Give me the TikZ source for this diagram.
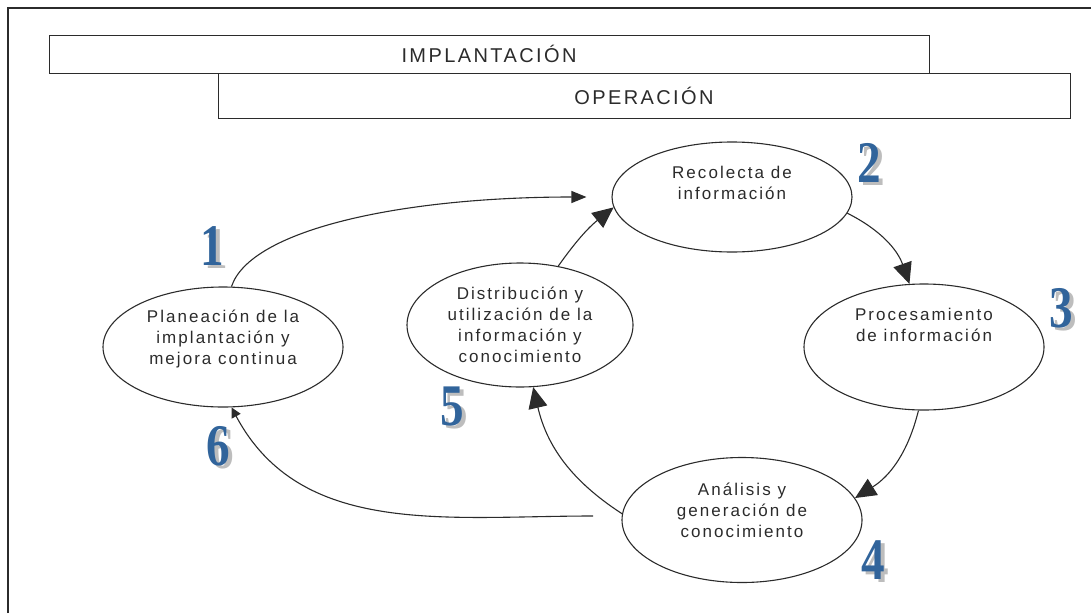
\documentclass[tikz,border=0pt]{standalone}
\usepackage{fontspec}
\setmainfont{Liberation Sans}
\newfontfamily\ellfont{Liberation Sans}[LetterSpace=12]
\newfontfamily\barfont{Liberation Sans}[LetterSpace=12]
\newfontfamily\numfont{Liberation Serif}
\usetikzlibrary{shapes.geometric,arrows.meta}
\definecolor{numblue}{HTML}{31649B}
\definecolor{numshade}{HTML}{BDBDBD}
\definecolor{inkgray}{HTML}{2B2B2B}
\begin{document}
\begin{tikzpicture}[
                            x=1pt, y=-1pt,
                            bar/.style={rectangle, draw=inkgray, line width=1pt, text=inkgray, font=\barfont\fontsize{20}{22}\selectfont},
                            blob/.style={ellipse, draw=inkgray, line width=1.1pt},
                            blobtext/.style={align=center, text=inkgray, font=\ellfont\fontsize{17}{21}\selectfont},
                            flow/.style={-{Triangle[length=21pt,width=19pt]}, draw=inkgray, line width=1.1pt},
                            num/.style={inner sep=0pt, text=numblue, font=\numfont\bfseries\fontsize{59}{59}\selectfont}
                        ]
                        \useasboundingbox (0,0) rectangle (1091,613);
                        \draw [line width=2pt, draw=inkgray] (8,613) -- (8,8) -- (1091,8);

                        % Phases
                        \node [bar, minimum width=880pt, minimum height=38pt] (impl) at (489,54) {IMPLANTACIÓN};
                        \node [bar, minimum width=852pt, minimum height=45pt] (oper) at (644,95.5) {OPERACIÓN};

                        % Blocks
                        \node [blob, minimum width=240pt, minimum height=120pt, label={[blobtext, yshift=8pt]center:{Planeación de la\\implantación y\\mejora continua}}] (pla) at (223,347) {};
                        \node [blob, minimum width=240pt, minimum height=110pt, label={[blobtext, yshift=14pt]center:{Recolecta de\\información}}] (rec) at (732,197) {};
                        \node [blob, minimum width=240pt, minimum height=126pt, label={[blobtext, yshift=22pt]center:{Procesamiento\\de información}}] (pro) at (924,347) {};
                        \node [blob, minimum width=240pt, minimum height=125pt, label={[blobtext, yshift=10pt]center:{Análisis y\\generación de\\conocimiento}}] (ana) at (742,520) {};
                        \node [blob, minimum width=226pt, minimum height=124pt, label={[blobtext]center:{Distribución y\\utilización de la\\información y\\conocimiento}}] (dis) at (520,325) {};

                        % Step numbers (with their grey shadow)
                        \foreach \k/\px/\py in {1/212/248, 2/869/164, 3/1061/310, 4/873/562, 5/452/408, 6/218/448} {
                            \node [num] (n\k) at (\px,\py) {\rlap{\kern4pt\raisebox{-3pt}{\color{numshade}\scalebox{0.8}[1]{\k}}}\scalebox{0.8}[1]{\k}};
                        }

                        % Connections
                        \coordinate (back) at (593,516);
                        \draw [flow, -{Triangle[length=15pt,width=12pt]}, shorten >=25pt] (pla.82) .. controls (250,230) and (400,197) .. (rec.180);
                        \draw [flow] (dis.57) to[bend left=8] (rec.185);
                        \draw [flow] (rec.-8) to[bend left=22] (pro.103);
                        \draw [flow] (pro.265) to[bend left=22] (ana.11);
                        \draw [flow] (ana.177) to[bend left=22] (dis.282);
                        \draw [flow, -{Triangle[length=10pt,width=10pt]}] (back) to[out=180, in=-62] (pla.278);
                    \end{tikzpicture}
\end{document}
